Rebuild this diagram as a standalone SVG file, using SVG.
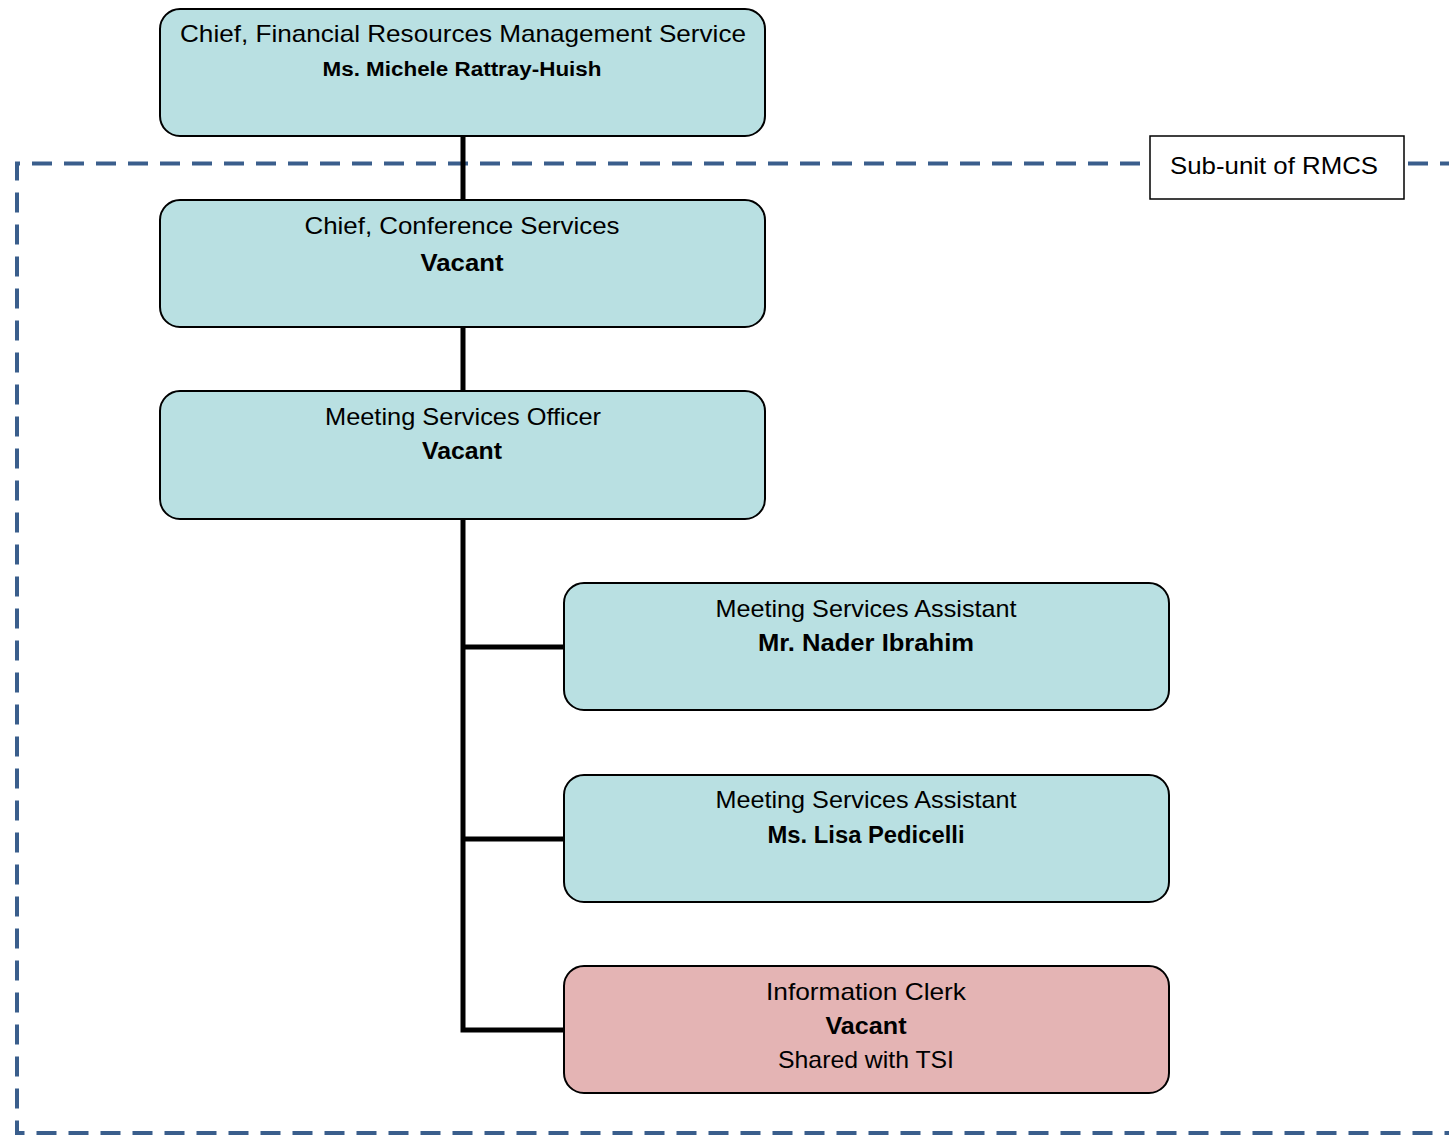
<svg xmlns="http://www.w3.org/2000/svg" width="1449" height="1135" viewBox="0 0 1449 1135">
<style>
.box{fill:#b9e0e2;stroke:#000;stroke-width:2}
.pink{fill:#e4b4b4;stroke:#000;stroke-width:2}
.t{font-family:"Liberation Sans",Arial,sans-serif;font-size:24px;fill:#000;text-anchor:middle}
.b{font-weight:bold;font-size:23px}
.conn{stroke:#000;stroke-width:5;fill:none}
.dash{stroke:#3a5e8c;stroke-width:4;fill:none;stroke-dasharray:20 12}
</style>
<rect width="1449" height="1135" fill="#fff"/>
<g id="subunit-boundary">
<path class="dash" d="M1460 163.5 H17 V1133 H1460"/>
</g>
<g id="connectors">
<path class="conn" d="M463 136 V200 M463 327 V391 M463 519 V1030 H564 M461 647 H564 M461 839 H564"/>
</g>
<g id="label-subunit">
<rect x="1150" y="136" width="254" height="63" fill="#fff" stroke="#000" stroke-width="1.5"/>
<text class="t" x="1274" y="174" textLength="208" lengthAdjust="spacingAndGlyphs">Sub-unit of RMCS</text>
</g>
<g id="node-chief-frms">
<rect class="box" x="160" y="9" width="605" height="127" rx="20"/>
<text class="t" x="463" y="42" textLength="566" lengthAdjust="spacingAndGlyphs">Chief, Financial Resources Management Service</text>
<text class="t b" x="462" y="76" style="font-size:20px" textLength="279" lengthAdjust="spacingAndGlyphs">Ms. Michele Rattray-Huish</text>
</g>
<g id="node-chief-cs">
<rect class="box" x="160" y="200" width="605" height="127" rx="20"/>
<text class="t" x="462" y="234" textLength="315" lengthAdjust="spacingAndGlyphs">Chief, Conference Services</text>
<text class="t b" x="462" y="271" textLength="83" lengthAdjust="spacingAndGlyphs">Vacant</text>
</g>
<g id="node-mso">
<rect class="box" x="160" y="391" width="605" height="128" rx="20"/>
<text class="t" x="463" y="425" textLength="276" lengthAdjust="spacingAndGlyphs">Meeting Services Officer</text>
<text class="t b" x="462" y="459" textLength="80" lengthAdjust="spacingAndGlyphs">Vacant</text>
</g>
<g id="node-msa-1">
<rect class="box" x="564" y="583" width="605" height="127" rx="20"/>
<text class="t" x="866" y="617" textLength="301" lengthAdjust="spacingAndGlyphs">Meeting Services Assistant</text>
<text class="t b" x="866" y="651" textLength="216" lengthAdjust="spacingAndGlyphs">Mr. Nader Ibrahim</text>
</g>
<g id="node-msa-2">
<rect class="box" x="564" y="775" width="605" height="127" rx="20"/>
<text class="t" x="866" y="808" textLength="301" lengthAdjust="spacingAndGlyphs">Meeting Services Assistant</text>
<text class="t b" x="866" y="843" textLength="197" lengthAdjust="spacingAndGlyphs">Ms. Lisa Pedicelli</text>
</g>
<g id="node-info-clerk">
<rect class="pink" x="564" y="966" width="605" height="127" rx="20"/>
<text class="t" x="866" y="1000" textLength="200" lengthAdjust="spacingAndGlyphs">Information Clerk</text>
<text class="t b" x="866" y="1034" textLength="81" lengthAdjust="spacingAndGlyphs">Vacant</text>
<text class="t" x="866" y="1068" textLength="176" lengthAdjust="spacingAndGlyphs">Shared with TSI</text>
</g>
</svg>
